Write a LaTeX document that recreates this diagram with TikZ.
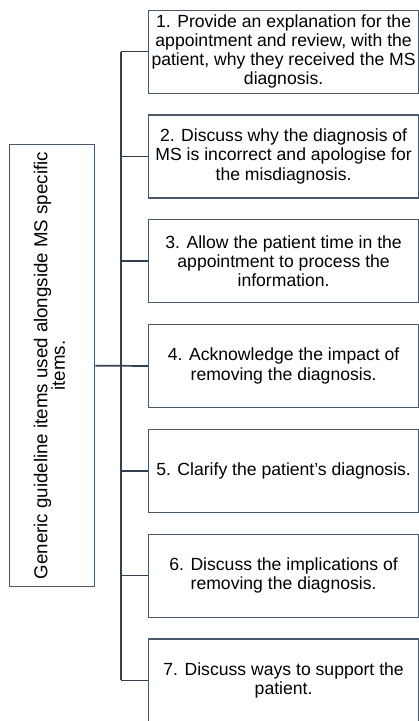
\documentclass[tikz,border=0pt]{standalone}
\usepackage{fontspec}
\setmainfont{Liberation Sans}
\definecolor{boxc}{HTML}{4A5869}
\definecolor{linec}{HTML}{333F4F}
\begin{document}
\begin{tikzpicture}[x=1pt,y=-1pt,
  item/.style={draw=boxc, line width=1.2pt, minimum width=270pt, minimum height=83pt,
    align=center, anchor=north west, inner sep=0pt, text=black,
    font=\fontsize{17.6}{19.2}\selectfont},
  main/.style={draw=boxc, line width=1.3pt, minimum width=85pt, minimum height=442pt,
    anchor=north west, inner sep=0pt, font=\fontsize{18.7}{19.5}\selectfont},
  conn/.style={draw=linec, line width=1.7pt}]
\clip (0,0) rectangle (419,721);
\node[main] (L) at (9,144) {\rotatebox{90}{\begin{tabular}{@{}c@{}}Generic guideline items used alongside MS specific\\[-2pt]items.\end{tabular}}};
\node[item] (b1) at (148,9.5) {1. Provide an explanation for the\\appointment and review, with the\\patient, why they received the MS\\diagnosis.};
\node[item] (b2) at (148,114.3) {2. Discuss why the diagnosis of\\MS is incorrect and apologise for\\the misdiagnosis.};
\node[item] (b3) at (148,219.1) {3. Allow the patient time in the\\appointment to process the\\information.};
\node[item] (b4) at (148,323.9) {4. Acknowledge the impact of\\removing the diagnosis.};
\node[item] (b5) at (148,428.7) {5. Clarify the patient’s diagnosis.};
\node[item] (b6) at (148,533.5) {6. Discuss the implications of\\removing the diagnosis.};
\node[item] (b7) at (148,638.3) {7. Discuss ways to support the\\patient.};
\coordinate (T) at (121,0);
\draw[conn] (L.east) -- (b4.west);
\draw[conn] (b1.west -| T) -- (b7.west -| T);
\foreach \i in {1,2,3,5,6,7} {
  \draw[conn] (b\i.west) -- (b\i.west -| T);
}
\end{tikzpicture}
\end{document}
